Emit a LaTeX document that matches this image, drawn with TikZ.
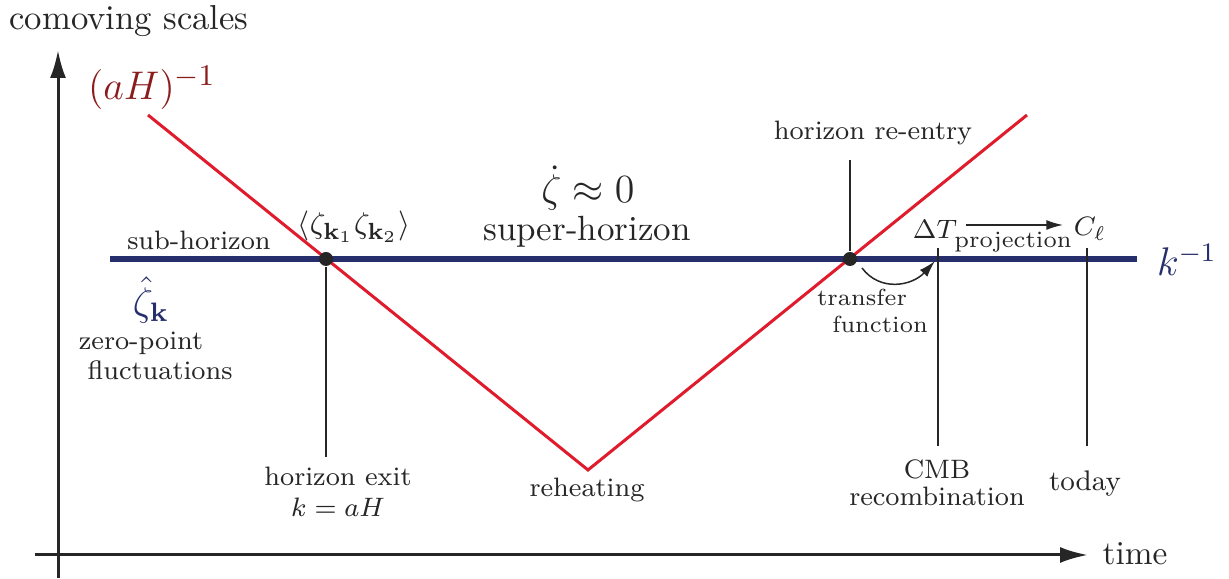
\documentclass[tikz,border=0pt]{standalone}
\usetikzlibrary{arrows.meta}
\definecolor{txt}{HTML}{262626}
\definecolor{navy}{HTML}{262F6C}
\definecolor{hred}{HTML}{DF1B2C}
\definecolor{dred}{HTML}{8A1C1C}
\begin{document}
\begin{tikzpicture}[x=0.3pt,y=-0.3pt,
  every node/.style={inner sep=0pt, text=txt},
  lab/.style={font=\fontsize{8}{8.2}\selectfont, align=center},
  small/.style={font=\fontsize{7}{8.4}\selectfont, align=center},
  axis/.style={draw=txt, line width=0.9pt, -{Latex[length=8.4pt,width=4.8pt]}},
  hubble/.style={draw=hred, line width=0.9pt, line join=miter},
  mode/.style={draw=navy, line width=1.8pt},
  tick/.style={draw=txt, line width=0.45pt},
  dot/.style={circle, fill=txt, minimum size=4.2pt, inner sep=0pt},
  arr/.style={draw=txt, line width=0.45pt, -{Latex[length=5pt,width=3pt]}}
]
\useasboundingbox (0,0) rectangle (1229,579);

% axes
\coordinate (yb) at (58,578);
\coordinate (yt) at (58,50);
\coordinate (xl) at (35,555);
\coordinate (xr) at (1088,555);
\draw[axis] (yb) -- (yt);
\draw[axis] (xl) -- (xr);
\node[font=\fontsize{10.4}{12}\selectfont] (cs) at (129,21) {comoving scales};
\node[font=\fontsize{10}{12}\selectfont] (time) at (1135,554) {time};

% comoving Hubble radius
\coordinate (r1) at (148,115);
\coordinate (rh) at (588,470);
\coordinate (r2) at (1027,115);
\draw[hubble] (r1) -- (rh) -- (r2);
\node[text=dred, font=\fontsize{12.5}{14}\selectfont] (aH) at (152,88) {$(aH)^{-1}$};

% mode
\coordinate (b1) at (110,259);
\coordinate (b2) at (1137,259);
\draw[mode] (b1) -- (b2);
\node[text=navy, font=\fontsize{12}{14}\selectfont] (kinv) at (1187,260) {$k^{-1}$};

% crossings
\node[dot] (exit) at (326,259) {};
\node[dot] (reentry) at (850,259) {};

% vertical markers
\coordinate (exitend) at (326,457);
\draw[tick] (exit) -- (exitend);
\coordinate (retop) at (850,160);
\draw[tick] (retop) -- (reentry);
\coordinate (cmbtop) at (938,248);
\coordinate (cmbend) at (938,446);
\draw[tick] (cmbtop) -- (cmbend);
\coordinate (todaytop) at (1087,248);
\coordinate (todayend) at (1087,446);
\draw[tick] (todaytop) -- (todayend);

% labels
\node[lab] (hexit) at (338,492) {horizon exit\\[1pt]$k=aH$};
\node[lab] (reh) at (587,490) {reheating};
\node[lab] (cmb) at (937,483) {CMB\\recombination};
\node[font=\fontsize{8.5}{10}\selectfont] (today) at (1085,484) {today};
\node[lab] (hre) at (873,133) {horizon re-entry};
\node[lab] (sub) at (199,240) {sub-horizon};
\node[font=\fontsize{9.5}{11}\selectfont] (corr) at (354,227) {$\langle\zeta_{\mathbf{k}_1}\zeta_{\mathbf{k}_2}\rangle$};
\node[font=\fontsize{12.8}{14}\selectfont] (zdot) at (588,188) {$\dot\zeta\approx 0$};
\node[font=\fontsize{10.5}{12}\selectfont] (sup) at (587,232) {super-horizon};
\node[text=navy, font=\fontsize{11.5}{13}\selectfont] (zhat) at (151,300) {$\hat\zeta_{\mathbf{k}}$};
\node[lab] (zp1) at (141,343) {zero-point};
\node[lab] (zp2) at (160,370) {fluctuations};

% transfer function
\coordinate (tfs) at (862,268);
\coordinate (tfe) at (935,261);
\draw[arr] (tfs) .. controls (880,292) and (912,286) .. (tfe);
\node[small] (tf1) at (862,297) {transfer};
\node[small] (tf2) at (880,324) {function};

% projection
\node[font=\fontsize{8}{10}\selectfont] (dT) at (935,229) {$\Delta T$};
\node[font=\fontsize{8}{10}\selectfont] (Cl) at (1090,229) {$C_\ell$};
\coordinate (ps) at (966,225);
\coordinate (pe) at (1063,225);
\draw[arr] (ps) -- (pe);
\node[small] (proj) at (1013,242) {projection};
\end{tikzpicture}
\end{document}
